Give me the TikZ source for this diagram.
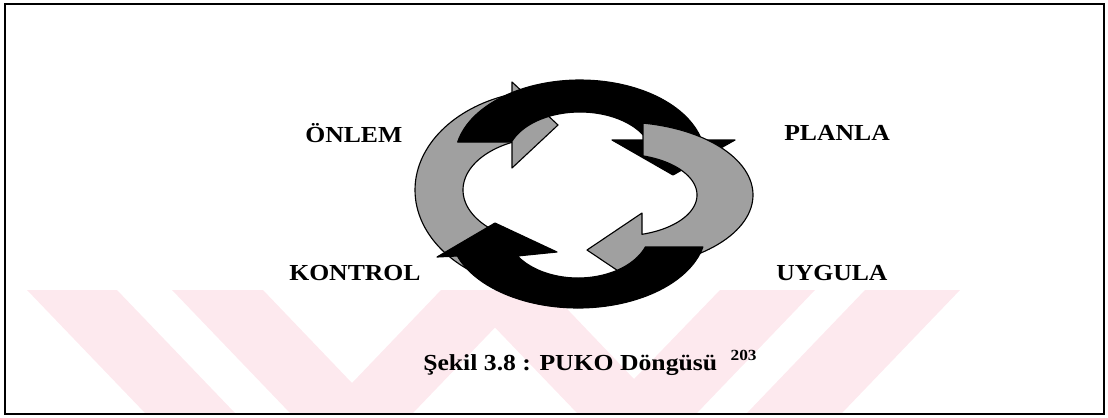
\documentclass[tikz,border=0pt]{standalone}
\usepackage{fontspec}
\usepackage{graphicx}
\setmainfont{Liberation Serif}
\definecolor{arrowgray}{RGB}{160,160,160}
\definecolor{wmpink}{RGB}{253,233,238}
\tikzset{
  lbl/.style={anchor=base west, inner sep=0pt, font=\fontsize{16.3}{19}\selectfont\bfseries},
  grayarrow/.style={fill=arrowgray, draw=black, line width=0.8pt, line join=round},
  blackarrow/.style={fill=black, draw=black, line width=0.8pt, line join=round},
  wm/.style={fill=wmpink, draw=none},
  frame/.style={draw=black, line width=1.4pt}
}
\begin{document}
\begin{tikzpicture}[x=0.025cm,y=-0.025cm]
\useasboundingbox (0,0) rectangle (1108,417);
% watermark stripes
\fill[wm] (27,290) -- (117,290) -- (235,413) -- (145,413) -- cycle;
\fill[wm] (172,290) -- (263,290) -- (352,383) -- (441,290) -- (531,290) -- (413,413) -- (290,413) -- cycle;
\fill[wm] (459,290) -- (549,290) -- (634,379) -- (720,290) -- (815,290) -- (697,413) -- (577,413) -- cycle;
\fill[wm] (865,290) -- (960,290) -- (842,413) -- (747,413) -- cycle;
% frame
\draw[frame] (5,4) rectangle (1104,414);
% gray left arrow (Onlem -> Planla)
\filldraw[grayarrow] plot[domain=125:253.65,samples=60] ({550+135*cos(\x)},{190+100*sin(\x)})
  -- (512,82) -- (558,125) -- (512,168)
  -- plot[domain=244.1:125,samples=60] ({550+87*cos(\x)},{190+53*sin(\x)}) -- cycle;
% black top arrow
\filldraw[blackarrow] plot[domain=191.84:346.66,samples=60] ({580+125*cos(\x)},{158+78*sin(\x)})
  -- (735,140) -- (673,175) -- (612,140)
  -- plot[domain=336.97:200.35,samples=60] ({580+73*cos(\x)},{158+46*sin(\x)}) -- cycle;
% gray right arrow
\filldraw[grayarrow] plot[domain=279.96:440.48,samples=60] ({620+133*cos(\x)},{195+73*sin(\x)})
  -- (642,287) -- (587,250) -- (642,213)
  -- plot[domain=433.4:287.38,samples=60] ({620+77*cos(\x)},{195+41*sin(\x)}) -- cycle;
% black bottom arrow
\filldraw[blackarrow] plot[domain=12.59:160.53,samples=60] ({578+128*cos(\x)},{230+78*sin(\x)})
  -- (437,257) -- (495,223) -- (557,252)
  -- plot[domain=147.2:20.74,samples=60] ({578+72*cos(\x)},{230+48*sin(\x)}) -- cycle;
% labels
\node[lbl] (onlem) at (305,142) {\scalebox{1.12}[1]{ÖNLEM}};
\node[lbl] (planla) at (784,140) {\scalebox{1.12}[1]{PLANLA}};
\node[lbl] (kontrol) at (289,280) {\scalebox{1.12}[1]{KONTROL}};
\node[lbl] (uygula) at (776,280) {\scalebox{1.12}[1]{UYGULA}};
\node[lbl] (caption) at (423,370) {\scalebox{1.12}[1]{Şekil 3.8 : PUKO Döngüsü\hspace{0.3cm}\raisebox{7pt}{\fontsize{11}{12}\selectfont 203}}};
\end{tikzpicture}
\end{document}
